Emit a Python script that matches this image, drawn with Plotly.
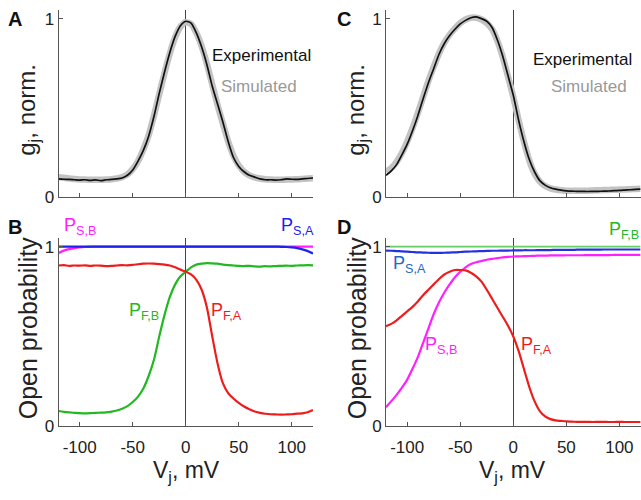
import plotly.graph_objects as go

# ---------------- data ----------------
vj = [-120, -115, -110, -105, -100, -95, -90, -85, -80, -75, -70, -65, -60, -55, -50,
      -45, -40, -35, -30, -25, -20, -15, -10, -5, 0, 5, 10, 15, 20, 25, 30, 35, 40,
      45, 50, 55, 60, 65, 70, 75, 80, 85, 90, 95, 100, 105, 110, 115, 120]

# Panel A
a_exp = [0.100, 0.098, 0.097, 0.095, 0.093, 0.095, 0.092, 0.094, 0.090, 0.095, 0.097, 0.100,
         0.105, 0.120, 0.150, 0.200, 0.260, 0.340, 0.450, 0.580, 0.700, 0.810, 0.900, 0.960,
         0.985, 0.975, 0.920, 0.840, 0.740, 0.620, 0.520, 0.420, 0.310, 0.220, 0.170, 0.140,
         0.120, 0.110, 0.100, 0.095, 0.095, 0.093, 0.095, 0.100, 0.098, 0.097, 0.100, 0.102, 0.105]
a_sim = [0.110, 0.106, 0.102, 0.099, 0.097, 0.096, 0.095, 0.095, 0.095, 0.096, 0.098, 0.102,
         0.110, 0.125, 0.155, 0.200, 0.265, 0.345, 0.455, 0.575, 0.695, 0.805, 0.895, 0.955,
         0.980, 0.970, 0.920, 0.845, 0.745, 0.630, 0.515, 0.410, 0.310, 0.230, 0.175, 0.140,
         0.120, 0.108, 0.102, 0.098, 0.096, 0.095, 0.095, 0.096, 0.097, 0.098, 0.100, 0.102, 0.104]

# Panel B
b_pfa = [0.895, 0.897, 0.893, 0.895, 0.894, 0.896, 0.893, 0.895, 0.894, 0.892, 0.893, 0.895,
         0.897, 0.896, 0.898, 0.902, 0.905, 0.906, 0.905, 0.903, 0.900, 0.895, 0.885, 0.872,
         0.860, 0.845, 0.815, 0.760, 0.660, 0.500, 0.350, 0.240, 0.185, 0.155, 0.130, 0.110,
         0.095, 0.082, 0.075, 0.070, 0.067, 0.066, 0.065, 0.066, 0.067, 0.070, 0.072, 0.078, 0.090]
b_pfb = [0.085, 0.080, 0.077, 0.075, 0.073, 0.072, 0.073, 0.075, 0.076, 0.078, 0.082, 0.088,
         0.098, 0.112, 0.135, 0.165, 0.210, 0.280, 0.370, 0.500, 0.620, 0.720, 0.790, 0.835,
         0.860, 0.885, 0.900, 0.905, 0.908, 0.907, 0.905, 0.900, 0.897, 0.895, 0.893, 0.892,
         0.893, 0.890, 0.889, 0.891, 0.890, 0.892, 0.893, 0.894, 0.893, 0.895, 0.896, 0.897, 0.896]
b_psa = [1.0, 1.0, 1.0, 1.0, 1.0, 1.0, 1.0, 1.0, 1.0, 1.0, 1.0, 1.0, 1.0, 1.0, 1.0, 1.0, 1.0,
         1.0, 1.0, 1.0, 1.0, 1.0, 1.0, 1.0, 1.0, 1.0, 1.0, 1.0, 1.0, 1.0, 1.0, 1.0, 1.0, 1.0,
         1.0, 1.0, 1.0, 1.0, 1.0, 1.0, 1.0, 1.0, 0.999, 0.998, 0.996, 0.992, 0.985, 0.975, 0.962]
b_psb = [0.965, 0.978, 0.986, 0.992, 0.996, 0.998, 0.999, 1.0, 1.0, 1.0, 1.0, 1.0, 1.0, 1.0,
         1.0, 1.0, 1.0, 1.0, 1.0, 1.0, 1.0, 1.0, 1.0, 1.0, 1.0, 1.0, 1.0, 1.0, 1.0, 1.0, 1.0,
         1.0, 1.0, 1.0, 1.0, 1.0, 1.0, 1.0, 1.0, 1.0, 1.0, 1.0, 1.0, 1.0, 1.0, 1.0, 1.0, 1.0, 1.0]

# Panel C
c_exp = [0.120, 0.145, 0.180, 0.235, 0.295, 0.370, 0.455, 0.550, 0.640, 0.720, 0.800, 0.860,
         0.905, 0.940, 0.970, 0.990, 1.005, 1.010, 1.000, 0.985, 0.950, 0.880, 0.790, 0.680,
         0.570, 0.430, 0.310, 0.210, 0.140, 0.090, 0.065, 0.050, 0.042, 0.037, 0.033, 0.031,
         0.030, 0.030, 0.029, 0.030, 0.030, 0.031, 0.032, 0.034, 0.035, 0.037, 0.039, 0.041, 0.043]
c_sim = [0.140, 0.160, 0.195, 0.245, 0.310, 0.385, 0.470, 0.560, 0.650, 0.730, 0.805, 0.865,
         0.910, 0.945, 0.975, 0.995, 1.005, 1.005, 0.995, 0.975, 0.940, 0.875, 0.785, 0.675,
         0.560, 0.430, 0.310, 0.205, 0.130, 0.085, 0.060, 0.047, 0.040, 0.036, 0.034, 0.033,
         0.033, 0.033, 0.034, 0.035, 0.036, 0.037, 0.038, 0.039, 0.040, 0.041, 0.042, 0.043, 0.044]

# Panel D
d_pfb = [1.0] * 49
d_psa = [0.978, 0.977, 0.975, 0.974, 0.972, 0.970, 0.968, 0.967, 0.966, 0.965, 0.965, 0.966,
         0.967, 0.968, 0.970, 0.972, 0.973, 0.974, 0.975, 0.976, 0.977, 0.977, 0.978, 0.978,
         0.979, 0.979, 0.980, 0.980, 0.980, 0.981, 0.981, 0.981, 0.982, 0.982, 0.982, 0.982,
         0.983, 0.983, 0.983, 0.983, 0.983, 0.984, 0.984, 0.984, 0.984, 0.984, 0.984, 0.984, 0.984]
d_psb = [0.106, 0.140, 0.175, 0.215, 0.260, 0.320, 0.385, 0.465, 0.545, 0.625, 0.690, 0.745,
         0.790, 0.830, 0.860, 0.885, 0.903, 0.913, 0.920, 0.927, 0.932, 0.936, 0.940, 0.943,
         0.945, 0.946, 0.947, 0.948, 0.949, 0.950, 0.950, 0.951, 0.951, 0.951, 0.952, 0.952,
         0.952, 0.952, 0.953, 0.953, 0.953, 0.953, 0.953, 0.954, 0.954, 0.954, 0.954, 0.954, 0.954]
d_pfa = [0.557, 0.570, 0.590, 0.615, 0.640, 0.665, 0.695, 0.730, 0.760, 0.790, 0.820, 0.845,
         0.860, 0.870, 0.870, 0.868, 0.855, 0.835, 0.805, 0.760, 0.710, 0.660, 0.610, 0.560,
         0.500, 0.420, 0.320, 0.220, 0.140, 0.085, 0.055, 0.040, 0.033, 0.030, 0.027, 0.026,
         0.025, 0.025, 0.025, 0.024, 0.025, 0.025, 0.024, 0.024, 0.025, 0.024, 0.024, 0.024, 0.024]

x_ticks = [-100, -50, 0, 50, 100]
x_ticktext = ["-100", "-50", "0", "50", "100"]
y_ticks = [0, 1]
y_ticktext = ["0", "1"]

# ---------------- figure ----------------
W, H = 641, 500
FONT = "Liberation Sans, Arial, sans-serif"
RED = "#ee1c1c"
GREEN = "#22b822"
BLUE = "#2020ee"
MAGENTA = "#ff20ff"
GRAY = "#c3c3c3"

fig = go.Figure()

def add(x, y, axis, color, width):
    fig.add_trace(go.Scatter(x=x, y=y, mode="lines", xaxis="x" + axis, yaxis="y" + axis,
                             line=dict(color=color, width=width, shape="spline", smoothing=0.6),
                             showlegend=False, hoverinfo="skip"))

# A
add(vj, a_sim, "", GRAY, 6.5)
add(vj, a_exp, "", "#111111", 1.7)
# B
add(vj, b_psb, "2", MAGENTA, 2.2)
add(vj, b_psa, "2", BLUE, 2.2)
add(vj, b_pfb, "2", GREEN, 2.2)
add(vj, b_pfa, "2", RED, 2.2)
# C
add(vj, c_sim, "3", GRAY, 6.5)
add(vj, c_exp, "3", "#111111", 1.7)
# D
add(vj, d_pfb, "4", "#66cc66", 1.6)
add(vj, d_psa, "4", "#2233dd", 2.2)
add(vj, d_psb, "4", MAGENTA, 2.2)
add(vj, d_pfa, "4", RED, 2.2)

def px(x):
    return x / W

def py(y):
    return 1 - y / H

xdomL = [px(58.5), px(313)]
xdomR = [px(386), px(640.6)]
ydomT = [py(200.7), py(9.9)]
ydomB = [py(435), py(242.5)]

def xaxis(dom, anchor, labels):
    return dict(domain=dom, anchor=anchor, range=[-120, 120], showline=True,
                linecolor="#555555", linewidth=1, ticks="inside", ticklen=4,
                tickcolor="#555555", tickvals=x_ticks, ticktext=x_ticktext,
                showticklabels=labels, showgrid=False, zeroline=True,
                zerolinecolor="#444444", zerolinewidth=1, ticklabelstandoff=5,
                tickfont=dict(size=17, color="#222222", family=FONT))

def yaxis(dom, anchor):
    return dict(domain=dom, anchor=anchor, range=[0, 1.05], showline=True,
                linecolor="#555555", linewidth=1, ticks="inside", ticklen=4,
                tickcolor="#555555", tickvals=y_ticks, ticktext=y_ticktext,
                showgrid=False, zeroline=False,
                tickfont=dict(size=17, color="#222222", family=FONT))

ann = []

def text(x, y, s, size, color="#222222", angle=0, bold=False, xanchor="center"):
    if bold:
        s = "<b>" + s + "</b>"
    ann.append(dict(x=px(x), y=py(y), xref="paper", yref="paper", text=s, showarrow=False,
                    textangle=angle, xanchor=xanchor, yanchor="middle",
                    font=dict(size=size, color=color, family=FONT)))

# panel letters
text(15, 19, "A", 20, "#111111", bold=True)
text(15, 232, "B", 20, "#111111", bold=True)
text(344, 19, "C", 20, "#111111", bold=True)
text(344, 232, "D", 20, "#111111", bold=True)

# axis titles
text(29, 112, "g<sub>j</sub>, norm.", 24, angle=-90)
text(28, 335, "Open probability", 25, angle=-90)
text(358, 112, "g<sub>j</sub>, norm.", 24, angle=-90)
text(357, 335, "Open probability", 25, angle=-90)
text(186, 481, "V<sub>j</sub>, mV", 23)
text(512, 481, "V<sub>j</sub>, mV", 23)

# legends text
text(261, 57, "Experimental", 17, "#111111")
text(259, 88, "Simulated", 17, "#999999")
text(531, 61, "Experimental", 17, "#111111", xanchor="left")
text(549, 88, "Simulated", 17, "#999999", xanchor="left")

# curve labels B
text(80, 231, "P<sub>S,B</sub>", 18, MAGENTA)
text(297, 231, "P<sub>S,A</sub>", 18, BLUE)
text(144, 318, "P<sub>F,B</sub>", 18, GREEN)
text(226, 318, "P<sub>F,A</sub>", 18, RED)
# curve labels D
text(624, 235, "P<sub>F,B</sub>", 18, GREEN)
text(409, 270, "P<sub>S,A</sub>", 18, "#2266cc")
text(441, 353, "P<sub>S,B</sub>", 18, MAGENTA)
text(536, 353, "P<sub>F,A</sub>", 18, RED)

fig.update_layout(
    width=W, height=H,
    margin=dict(l=0, r=0, t=0, b=0),
    paper_bgcolor="white", plot_bgcolor="white",
    font=dict(family=FONT, color="#222222"),
    xaxis=xaxis(xdomL, "y", False), yaxis=yaxis(ydomT, "x"),
    xaxis2=xaxis(xdomL, "y2", True), yaxis2=yaxis(ydomB, "x2"),
    xaxis3=xaxis(xdomR, "y3", False), yaxis3=yaxis(ydomT, "x3"),
    xaxis4=xaxis(xdomR, "y4", True), yaxis4=yaxis(ydomB, "x4"),
    annotations=ann,
)

fig.write_html("out.html", config={"displayModeBar": False},
               post_script="document.body.style.margin='0';document.body.style.overflow='hidden';")
